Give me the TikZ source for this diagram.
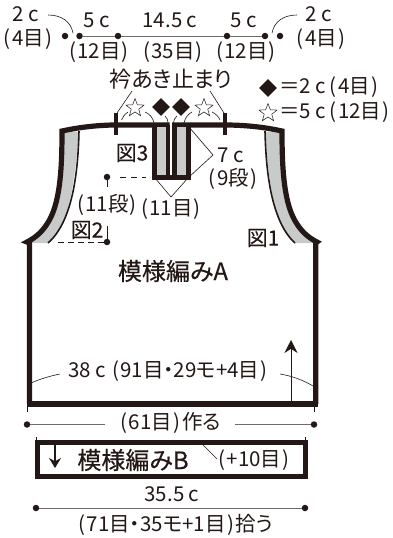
\documentclass[tikz,border=0pt]{standalone}
\usepackage{fontspec}
\setmainfont[RawFeature=+palt]{Noto Sans CJK JP}
\newfontfamily\medf[RawFeature=+palt,FakeBold=0.35]{Noto Sans CJK JP}
\newfontfamily\lightbf[RawFeature=+palt,FakeBold=0.15]{Noto Sans CJK JP}
\usetikzlibrary{shapes.geometric,arrows.meta}
\definecolor{ink}{HTML}{231815}
\definecolor{bandgray}{HTML}{C9CACA}
\definecolor{rulegray}{HTML}{6E6A68}
\newcommand{\opn}{(\kern1.3pt}
\newcommand{\cls}{\kern1.3pt)}
\tikzset{
  lab/.style={font=\fontsize{20.5}{22}\selectfont,text=ink,inner sep=0pt,outer sep=0pt},
  figlab/.style={font=\lightbf\fontsize{21}{23}\selectfont,text=ink,inner sep=0pt,outer sep=0pt},
  biglab/.style={font=\medf\fontsize{24}{26}\selectfont,text=ink,inner sep=0pt},
  dotnode/.style={circle,fill=ink,inner sep=0pt,minimum size=6.5pt},
  thin line/.style={draw=ink,line width=0.6pt},
  dim/.style={draw=rulegray,line width=1pt},
  thick edge/.style={draw=ink,line width=5.2pt,line join=miter},
  band/.style={fill=bandgray,draw=none},
  dia/.style={diamond,fill=ink,inner sep=0pt,minimum size=18pt},
  starn/.style={star,star points=5,star point ratio=2.4,draw=ink,line width=0.5pt,fill=white,inner sep=0pt,minimum size=19pt},
}
\begin{document}
\begin{tikzpicture}[x=1pt,y=-1pt]
\useasboundingbox (0,0) rectangle (393,538);
% top dimension line
\node[dotnode] (t1) at (65,36) {};
\node[dotnode] (t2) at (79.5,36) {};
\node[dotnode] (t3) at (118,36) {};
\node[dotnode] (t4) at (227,36) {};
\node[dotnode] (t5) at (265,36) {};
\node[dotnode] (t6) at (280,36) {};
\draw[dim] (t2)--(t3); \draw[dim] (t3)--(t4); \draw[dim] (t4)--(t5);
\node[lab] at (26,14) {2 c};
\node[lab] at (28,39) {\opn 4目\cls};
\node[lab] at (97,20) {5 c};
\node[lab] at (170,20) {14.5 c};
\node[lab] at (244,20) {5 c};
\node[lab] at (319,14) {2 c};
\node[lab] at (321,39) {\opn 4目\cls};
\node[lab] at (99,52) {\opn 12目\cls};
\node[lab] at (173,52) {\opn 35目\cls};
\node[lab] at (246,52) {\opn 12目\cls};
\coordinate (la) at (48,15); \coordinate (lb) at (73,33);
\coordinate (ra) at (297,15); \coordinate (rb) at (272,33);
\draw[thin line] (la) .. controls (62,15) and (71,22) .. (lb);
\draw[thin line] (ra) .. controls (283,15) and (274,22) .. (rb);
% neck label and legend
\node[lab,font=\fontsize{22}{24}\selectfont] (neck) at (171,79) {衿あき止まり};
\node[dia] (d0) at (268,88) {};
\node[starn] (s0) at (268,113) {};
\node[lab,anchor=west] at (279,87) {＝2 c\kern4pt\opn 4目\cls};
\node[lab,anchor=west] at (279,112) {＝5 c\kern4pt\opn 12目\cls};
\node[starn] (s1) at (135,108) {};
\node[starn] (s2) at (204,108) {};
\node[dia] (d1) at (161,107) {};
\node[dia] (d2) at (181,107) {};
% gray bands
\path[band] (62,131) .. controls (62,170) and (60,205) .. (47,224) .. controls (42,232) and (35,238) .. (27,243) -- (48,243) .. controls (62,232) and (72,215) .. (79,132) -- cycle;
\path[band] (282,131) .. controls (282,170) and (284,205) .. (297,224) .. controls (302,232) and (309,238) .. (316,243) -- (295,243) .. controls (281,232) and (271,215) .. (265,132) -- cycle;
% band inner lines
\draw[ink,line width=1.6pt] (79,131) .. controls (78,175) and (72,222) .. (48,243);
\draw[ink,line width=1.6pt] (265,131) .. controls (266,175) and (272,222) .. (295,243);
% body outline
\draw[thick edge] (29.5,404) -- (29.5,243) -- (27,242)
  .. controls (35,238) and (42,232) .. (47,224) .. controls (60,205) and (62,170) .. (62,131)
  .. controls (80,127) and (100,125) .. (116,125) -- (169.5,125);
\draw[thick edge] (315.7,404) -- (315.7,243) -- (317,242)
  .. controls (309,238) and (302,232) .. (297,224) .. controls (284,205) and (282,170) .. (282,131)
  .. controls (264,127) and (244,125) .. (225,125) -- (172,125);
\draw[thick edge] (26.9,404) -- (318.3,404);
% placket
\path[band] (157,127) rectangle (166,176);
\path[band] (177,127) rectangle (186,176);
\draw[ink,line width=5pt,line cap=butt] (154.5,125) -- (154.5,177.5) -- (188,177.5) -- (188,125);
\draw[ink,line width=4pt] (167.5,125) -- (167.5,178);
\draw[ink,line width=4.6pt] (174.7,125) -- (174.7,178);
\draw[white,line width=1.6pt] (170.6,122) -- (170.6,128);
% neck ticks
\draw[ink,line width=4.5pt] (116,113) -- (116,135);
\draw[ink,line width=4.5pt] (225,113) -- (225,135);
\coordinate (nl) at (117,113); \coordinate (nr) at (224,113);
\draw[thin line] (nl) -- (132,91);
\draw[thin line] (nr) -- (210,91);
% small arcs around stars and diamonds
\draw[thin line] (121.5,120) .. controls (122.5,117) and (124.5,114.5) .. (128,112);
\draw[thin line] (145,112) .. controls (150,114) and (153,118) .. (154,123);
\draw[thin line] (168,122.5) .. controls (168,120) and (167,118) .. (165,116);
\draw[thin line] (173.5,122.5) .. controls (173.5,120) and (175,118) .. (177,116);
\draw[thin line] (184,123) .. controls (185,118) and (188,114) .. (192,112);
\draw[thin line] (212,112) .. controls (216,114) and (219,117) .. (220,120);
% leaders
\coordinate (v1) at (155,178); \coordinate (v2) at (171,197); \coordinate (v3) at (188,178);
\draw[thin line] (v1) -- (v2) -- (v3);
\coordinate (w1) at (189,127); \coordinate (w2) at (213,155); \coordinate (w3) at (189,177);
\draw[thin line] (w1) -- (w2) -- (w3);
\node[lab] at (231,155) {7 c};
\node[lab] at (233,179) {\opn 9段\cls};
\node[lab] at (107,205) {\opn 11段\cls};
\node[lab] at (171,209) {\opn 11目\cls};
% internal dims
\node[dotnode] (p1) at (107,177) {};
\node[dotnode] (p2) at (107,242) {};
\coordinate (p1e) at (146,177); \coordinate (p1d) at (107,187);
\coordinate (p2e) at (58,242); \coordinate (p2d) at (107,226);
\draw[draw=ink,line width=0.6pt,dash pattern=on 6pt off 5pt] (p1) ++(13,0) -- (p1e);
\draw[thin line] (p1) -- (p1d);
\draw[thin line] (p2) -- (p2d);
\draw[draw=ink,line width=0.6pt,dash pattern=on 6pt off 4pt] (p2e) -- (p2);
\node[figlab] at (132,153) {図3};
\node[figlab] at (87,230) {図2};
\node[figlab] at (263,238) {図1};
\node[biglab] at (173,271) {模様編みA};
% body width label
\node[lab] at (168,371) {38 c\kern6pt\opn 91目・29モ+4目\cls};
\coordinate (ca) at (31,383); \coordinate (cb) at (60,374);
\coordinate (cc) at (280,374); \coordinate (cd) at (313,386);
\draw[thin line] (ca) .. controls (40,379) and (50,376) .. (cb);
\draw[thin line] (cc) .. controls (292,376) and (303,380) .. (cd);
\coordinate (ua) at (291,402); \coordinate (ub) at (291,340);
\draw[ink,line width=0.9pt,-{Stealth[length=13pt,width=13pt]}] (ua) -- (ub);
% cast on
\node[dotnode] (b1) at (27,424.5) {};
\node[dotnode] (b2) at (314,424.5) {};
\node[lab] (bl) at (171,423) {\opn 61目\cls\kern2pt 作る};
\draw[dim] (b1) -- (105,424.5);
\draw[dim] (235,424.5) -- (b2);
\draw[thin line] (27,407) -- (27,412); \draw[thin line] (314,407) -- (314,412);
\draw[thin line] (36,437) -- (36,440); \draw[thin line] (305,437) -- (305,440);
% rib
\node[draw=ink,line width=5pt,minimum width=268pt,minimum height=34pt,inner sep=0pt] (rib) at (171,459) {};
\coordinate (da) at (55,445); \coordinate (db) at (55,468);
\draw[ink,line width=1.2pt,-{Stealth[length=10pt,width=12pt]}] (da) -- (db);
\node[biglab] at (133,460) {模様編みB};
\coordinate (ea) at (203,445); \coordinate (eb) at (217,459);
\draw[thin line] (ea) -- (eb);
\node[lab] at (254,460) {\opn +10目\cls};
\node[lab] at (172,494) {35.5 c};
\node[dotnode] (c1) at (36,508) {};
\node[dotnode] (c2) at (305,508) {};
\draw[dim] (c1) -- (c2);
\node[lab] at (176,525) {\opn 71目・35モ+1目\cls\kern2pt 拾う};
\end{tikzpicture}
\end{document}
